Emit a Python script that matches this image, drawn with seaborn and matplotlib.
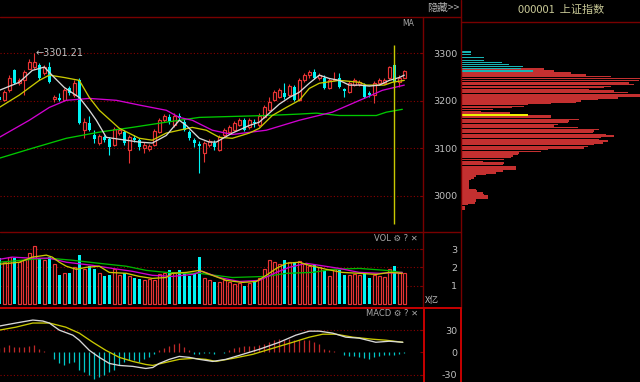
import numpy as np
import matplotlib
matplotlib.use("Agg")
import matplotlib.pyplot as plt
import seaborn as sns

# ---------------- data ----------------
opens = [3207,3201,3222,3264,3237,3243,3268,3271,3275,3258,
         3271,3203,3205,3201,3226,3212,3243,3138,3153,3127,
         3111,3123,3119,3106,3132,3134,3096,3121,3117,3100,
         3098,3106,3134,3159,3165,3148,3169,3155,3134,3117,
         3108,3089,3106,3111,3096,3127,3134,3138,3148,3159,
         3144,3155,3148,3165,3180,3201,3207,3216,3212,3228,
         3201,3243,3254,3260,3247,3249,3226,3243,3249,3224,
         3218,3233,3235,3233,3216,3212,3237,3237,3247,3275,
         3239,3249]
highs = [3212,3222,3254,3268,3247,3264,3289,3301.21,3279,3275,
         3281,3212,3216,3226,3231,3243,3247,3163,3169,3138,
         3129,3127,3123,3144,3142,3138,3127,3127,3121,3113,
         3108,3140,3163,3172,3172,3174,3174,3163,3138,3121,
         3115,3115,3119,3117,3127,3142,3148,3157,3163,3163,
         3163,3161,3174,3191,3207,3222,3226,3237,3235,3233,
         3247,3258,3264,3266,3258,3254,3247,3260,3258,3226,
         3241,3247,3243,3237,3220,3241,3247,3247,3273,3279,
         3254,3264]
lows = [3197,3199,3218,3235,3233,3212,3266,3268,3243,3254,
        3237,3197,3199,3199,3212,3207,3151,3121,3136,3111,
        3106,3113,3085,3104,3127,3106,3068,3113,3096,3089,
        3094,3104,3132,3155,3151,3144,3159,3136,3117,3102,
        3047,3071,3102,3096,3094,3123,3129,3136,3146,3136,
        3140,3144,3144,3163,3178,3199,3205,3203,3209,3199,
        3199,3239,3249,3245,3243,3224,3224,3241,3226,3207,
        3216,3231,3231,3205,3207,3195,3233,3235,3245,3237,
        3228,3247]
closes = [3201,3218,3249,3237,3243,3260,3281,3281,3249,3271,
          3239,3207,3201,3222,3216,3237,3153,3155,3138,3119,
          3125,3117,3102,3140,3138,3111,3123,3117,3102,3106,
          3104,3136,3159,3167,3155,3169,3163,3138,3121,3111,
          3104,3111,3115,3102,3123,3138,3144,3153,3159,3138,
          3159,3153,3169,3186,3197,3218,3222,3207,3231,3201,
          3243,3254,3260,3249,3254,3226,3243,3245,3228,3220,
          3237,3243,3239,3207,3212,3237,3243,3243,3271,3239,
          3249,3262]
volume = [2.50,2.28,2.56,2.50,2.30,2.40,2.80,3.20,2.50,2.40,
          2.55,2.20,1.60,1.70,1.70,2.00,2.70,1.90,2.05,1.93,
          1.67,1.55,1.60,1.93,1.60,1.67,1.55,1.40,1.37,1.33,
          1.37,1.33,1.65,1.70,1.87,1.70,1.83,1.70,1.50,1.65,
          2.55,1.40,1.33,1.20,1.20,1.33,1.20,1.10,1.15,0.95,
          1.15,1.27,1.43,1.93,2.43,2.30,2.20,2.43,2.30,2.30,
          2.33,2.20,2.10,2.15,2.00,1.83,1.55,1.90,1.83,1.60,
          1.60,1.65,1.60,1.65,1.40,1.60,1.55,1.45,1.90,2.05,
          1.67,1.67]
macd_hist = [5.5,7,9.5,7,7,7,8,9.5,4,2,
             1,-9.5,-15,-17.5,-15,-13,-24.5,-27,-31,-36,
             -33.6,-31,-27,-24.5,-17.5,-13,-11,-11,-13,-8.6,
             -6.4,-2.7,2.7,5.9,8.6,11.8,12.7,7.3,3.6,-1.8,
             -1.8,-1.5,-1,-2,1,-0.5,3.6,5.9,7.3,8.2,
             8.2,8.6,10.5,11.8,14,16.4,18.6,17.3,18.6,16.4,
             17.3,16.4,17.3,14,11.8,5,2.7,1.8,0.3,-4,
             -5,-5.5,-6.4,-7.3,-9.5,-6.4,-5.5,-4,-3.6,-3.2,
             -2.5,-1]

# moving-average lines (read at sample positions, candle index)
ma5_x = [0,4,6.6,9,11,13,16,18,19.4,21.4,24,28,30.6,33.4,36,37.4,40,42,43.4,46.6,50,52,54,56,58,60,62,64,66,68,70,72,74,76,78,80,81]
ma5_y = [3222,3239,3264,3271,3249,3228,3207,3180,3159,3123,3119,3113,3111,3127,3159,3148,3121,3113,3113,3132,3148,3155,3174,3193,3207,3218,3237,3254,3247,3243,3233,3233,3231,3233,3243,3249,3254]
ma10_x = [0,4,8,10,13,16,18,20,24,28,30.6,33.4,36,38.6,41.4,44,46.6,50,52,54.6,57.4,60,62,64,68,72,73.4,77,78.6,81]
ma10_y = [3186,3212,3243,3254,3249,3243,3207,3180,3142,3121,3117,3132,3138,3144,3138,3123,3121,3132,3142,3169,3186,3201,3226,3237,3243,3239,3233,3233,3239,3243]
ma20_x = [0,6,10,13.4,18,23.4,28,33.4,36,38.6,42.6,46.6,53.4,60,66.6,73.4,76.6,81]
ma20_y = [3123,3159,3186,3201,3205,3201,3191,3180,3165,3159,3138,3129,3138,3159,3176,3207,3222,3233]
ma60_x = [0,6.6,13.4,20,26.6,33.4,40,46.6,53.4,60,63.4,68,75.4,77.4,80.6]
ma60_y = [3079,3100,3121,3134,3144,3155,3165,3167,3169,3172,3174,3169,3169,3176,3182]

vma_y_x = [0,4,6.6,9.4,10.6,12,13.4,15.4,17.4,20,22,25.4,28,30.6,33.4,34.6,37.4,40,42.6,45.4,48.6,51.4,53.4,55.4,57.4,60,62,65.4,68.6,72,75.4,78,80.6]
vma_y_v = [2.17,2.28,2.56,2.67,2.56,2.28,2.06,1.89,2.0,2.06,1.72,1.67,1.5,1.39,1.44,1.67,1.72,1.83,1.56,1.28,1.17,1.22,1.56,1.94,2.22,2.28,2.11,1.89,1.72,1.67,1.61,1.72,1.67]
vma_m_x = [0,2.6,6.6,10,13.4,18.6,22.6,26.6,30.6,34.6,38.6,40.6,44,48,52,55.4,58,61.4,64,68,72,76,80.6]
vma_m_v = [2.44,2.56,2.5,2.5,2.28,2.11,1.94,1.78,1.56,1.5,1.61,1.78,1.44,1.22,1.28,1.72,2.0,2.22,2.11,1.94,1.72,1.67,1.72]
vma_g_x = [0,6.6,10,14.6,20,25.4,29.4,33.4,37.4,40,46.6,53.4,57.4,62.6,66.6,72,77.4,80.6]
vma_g_v = [2.28,2.44,2.5,2.39,2.22,2.06,1.83,1.72,1.67,1.67,1.44,1.5,1.67,1.72,1.89,1.94,1.83,1.72]

dif_x = [0,3.3,6.7,8.7,10,12,14.7,16,18,20,22,24,26.7,29.3,30.7,32,34,36,38,40,42.7,45.3,48,52,56,59.3,62,64,66.7,69.3,72,75.3,78,80.7]
dif_v = [35.5,39.6,43.6,42.3,39.6,30,23.2,16.4,2.7,-6.8,-15,-17.7,-19,-21.8,-20.5,-15,-9.5,-5.5,-6.8,-9.5,-12.3,-9.5,-4.1,4.1,13.6,23.2,28.6,28.6,25.9,20.5,19.1,13.6,15,13.6]
dea_x = [0,3.3,6.7,10,13.3,16,18.7,21.3,24,26.7,29.3,30.7,33.3,36,38.7,41.3,43.3,46.7,50.7,54.7,58.7,62,64.7,67.3,70.7,74.7,77.3,80.7]
dea_v = [30,34,39.6,39.6,34,25.9,13.6,2.7,-6.8,-12.3,-16.4,-17.7,-13.6,-9.5,-8.2,-9.5,-12.3,-8.2,-2.7,5.5,13.6,20.5,24.5,24.5,20.5,17.7,16.4,13.6]

# chip distribution (price level, amount)
chip_cyan_price = [3302.7,3297.9,3290.9,3285.3,3280.4,3276.8,3272.0,3268.4,3262.7]
chip_cyan_amt = [9,9,22,22,40,47,61,59,71]
chip_red_price = [3267.4,3262.7,3259.0,3254.1,3251.6,3246.7,3243.2,3237.5,3234.1,3230.5,
                  3227.8,3223.6,3220.6,3217.2,3213.7,3210.1,3205.9,3203.2,3199.6,3196.9,
                  3194.8,3192.0,3188.4,3185.3,3181.5,3177.9,3174.3,3169.5,3165.9,3161.1,
                  3157.5,3154.1,3150.5,3147.0,3143.6,3139.4,3136.4,3133.1,3129.5,3125.9,
                  3122.5,3118.3,3115.3,3111.2,3107.8,3104.2,3100.7,3097.3,3093.7,3090.1,
                  3086.8,3083.2,3080.4,3076.2,3072.6,3069.1,3065.7,3062.1,3058.6,3055.2,
                  3051.6,3048.0,3044.7,3041.1,3037.5,3034.2,3030.6,3027.0,3023.6,3020.0,
                  3016.5,3013.1,3009.5,3005.9,3002.6,2999.0,2995.4,2992.0,2988.5,2984.9,
                  2981.5,2976.5,2971.6]
chip_red_amt = [82,92,109,124,149,179,177,167,172,149,
                142,127,152,166,179,179,156,136,119,114,
                89,66,62,50,31,19,48,89,89,117,
                107,106,96,92,116,137,132,131,144,152,
                139,137,146,141,132,126,122,86,79,57,
                56,51,49,42,21,42,41,54,54,54,
                41,34,24,14,12,9,7,7,7,7,
                7,14,15,21,22,26,26,14,14,13,
                6,3,3]
chip_avg_price = [3169.5]
chip_avg_amt = [66]

price_ticks = [3000, 3100, 3200, 3300]
vol_ticks = [1, 2, 3]
macd_ticks = [-30, 0, 30]
peak_label = "←3301.21"
cursor_index = 79
cursor_top, cursor_bottom = 3317, 2940

# ---------------- style ----------------
sns.set_style("dark", {"axes.facecolor": "black", "figure.facecolor": "black"})
plt.rcParams['font.family'] = ['DejaVu Sans']
CJK = ['Noto Sans CJK SC', 'DejaVu Sans']

RED = '#e83434'
CYAN = '#00f4f4'
GRID = '#8a0000'
DARK = '#780000'
TXT = '#c0c0c0'

fig = plt.figure(figsize=(6.4, 3.82), dpi=100, facecolor='black')
W, H = 640.0, 382.0

def px_ax(x0, y0, x1, y1):
    a = fig.add_axes([x0 / W, 1 - y1 / H, (x1 - x0) / W, (y1 - y0) / H])
    a.set_facecolor('black')
    for s in a.spines.values():
        s.set_visible(False)
    a.grid(False)
    return a

ax_p = px_ax(0, 16, 423, 231)
ax_v = px_ax(0, 231.5, 423, 307.5)
ax_m = px_ax(0, 308, 423, 382)
ax_c = px_ax(461.5, 16, 640, 231)

n = len(closes)
idx = np.arange(n)
o = np.array(opens, float); c = np.array(closes, float)
h = np.array(highs, float); l = np.array(lows, float)
up = c >= o
XL = (0.14, 84.74)

# ---- price candles ----
top = np.maximum(o, c); bot = np.minimum(o, c)
body = np.maximum(top - bot, 1.0)
ax_p.vlines(idx[up], top[up], h[up], color=RED, lw=0.8, zorder=3)
ax_p.vlines(idx[up], l[up], bot[up], color=RED, lw=0.8, zorder=3)
ax_p.vlines(idx[~up], l[~up], h[~up], color=CYAN, lw=0.8, zorder=3)
ax_p.bar(idx[up], body[up], bottom=bot[up], width=0.64, facecolor='black',
         edgecolor=RED, linewidth=0.85, zorder=4)
ax_p.bar(idx[~up], body[~up], bottom=bot[~up], width=0.72, color=CYAN,
         linewidth=0, zorder=4)

for xs, ys, col in [(ma60_x, ma60_y, '#00c800'), (ma20_x, ma20_y, '#d000d0'),
                    (ma10_x, ma10_y, '#c8c800'), (ma5_x, ma5_y, '#d8d8d8')]:
    sns.lineplot(x=xs, y=ys, ax=ax_p, color=col, linewidth=0.95, sort=False, zorder=5)

ax_p.vlines(cursor_index - 0.15, cursor_bottom, cursor_top, color='#c8c800', lw=1.0, zorder=6)
ax_p.text(7.3, highs[7], peak_label, color=TXT, fontsize=7, ha='left', va='center', zorder=7)

for t in price_ticks:
    ax_p.axhline(t, color=GRID, lw=0.8, ls=(0, (1, 2)), zorder=1)
ax_p.set_xlim(*XL)
ax_p.set_ylim(2925.7, 3378.6)
ax_p.set_yticks(price_ticks)
ax_p.set_yticklabels([str(t) for t in price_ticks])

# ---- volume ----
v = np.array(volume)
for t in vol_ticks:
    ax_v.axhline(t, color=GRID, lw=0.8, ls=(0, (1, 2)), zorder=1)
ax_v.bar(idx[up], v[up], width=0.64, facecolor='black', edgecolor=RED, linewidth=0.85, zorder=3)
ax_v.bar(idx[~up], v[~up], width=0.72, color=CYAN, linewidth=0, zorder=3)
for xs, ys, col in [(vma_g_x, vma_g_v, '#00b400'), (vma_m_x, vma_m_v, '#d000d0'),
                    (vma_y_x, vma_y_v, '#c8c800')]:
    sns.lineplot(x=xs, y=ys, ax=ax_v, color=col, linewidth=0.95, sort=False, zorder=5)
ax_v.set_xlim(*XL)
ax_v.set_ylim(-0.21, 3.97)
ax_v.set_yticks(vol_ticks)
ax_v.set_yticklabels([str(t) for t in vol_ticks])

# ---- MACD ----
mh = np.array(macd_hist)
for t in (30, -30):
    ax_m.axhline(t, color=GRID, lw=0.8, ls=(0, (1, 2)), zorder=1)
ax_m.vlines(idx[mh >= 0], 0, mh[mh >= 0], color='#c02828', lw=0.9, zorder=3)
ax_m.vlines(idx[mh < 0], 0, mh[mh < 0], color='#00c8c8', lw=0.9, zorder=3)
sns.lineplot(x=dea_x, y=dea_v, ax=ax_m, color='#c8c800', linewidth=0.95, sort=False, zorder=5)
sns.lineplot(x=dif_x, y=dif_v, ax=ax_m, color='#d8d8d8', linewidth=0.95, sort=False, zorder=6)
ax_m.set_xlim(*XL)
ax_m.set_ylim(-40.1, 59.9)
ax_m.set_yticks(macd_ticks)
ax_m.set_yticklabels([str(t) for t in macd_ticks])

for a in (ax_p, ax_v, ax_m):
    a.set_xlabel(''); a.set_ylabel('')
    a.set_xticks([])
    a.yaxis.tick_right()
    a.tick_params(axis='y', direction='in', length=2.5, width=0.8, color=DARK,
                  labelcolor=TXT, labelsize=6.8, pad=24.5)
    for lab in a.get_yticklabels():
        lab.set_horizontalalignment('right')

# ---- chip distribution ----
ax_c.barh(chip_red_price, chip_red_amt, height=3.1, color='#c43030', linewidth=0)
ax_c.barh(chip_cyan_price, chip_cyan_amt, height=3.1, color='#18b4b4', linewidth=0)
ax_c.barh(chip_avg_price, chip_avg_amt, height=3.4, color='#f0f000', linewidth=0)
ax_c.set_xlim(0, 178.5)
ax_c.set_ylim(2925.7, 3378.6)
ax_c.set_xticks([]); ax_c.set_yticks([])

# ---- frame / UI overlay ----
ov = fig.add_axes([0, 0, 1, 1])
ov.set_xlim(0, W); ov.set_ylim(H, 0); ov.axis('off')
for (x0, y0, x1, y1) in [(0, 16.5, 461, 16.5), (461, 21.5, 640, 21.5), (423, 16.5, 423, 308),
                         (461, 0, 461, 308), (0, 231.5, 461, 231.5)]:
    ov.plot([x0, x1], [y0, y1], color=DARK, lw=1.0)
for (x0, y0, x1, y1) in [(0, 307.8, 461, 307.8), (423.5, 308, 423.5, 382), (460.5, 308, 460.5, 382)]:
    ov.plot([x0, x1], [y0, y1], color='#c80000', lw=1.4)
ov.text(443, 8, "隐藏>>", color='#b4b4b4', fontsize=7.5, ha='center', va='center', family=CJK)
ov.text(561, 10, "000001  上证指数", color='#c8c896', fontsize=8, ha='center', va='center', family=CJK)
ov.text(408, 24, "MA", color='#a8a8a8', fontsize=5.5, ha='center', va='center')
ov.text(418, 238, "VOL ⚙ ? ✕", color='#a8a8a8', fontsize=6, ha='right', va='center')
ov.text(418, 313.5, "MACD ⚙ ? ✕", color='#a8a8a8', fontsize=6, ha='right', va='center')
ov.text(425, 301, "X亿", color=TXT, fontsize=6.5, ha='left', va='center', family=CJK)

fig.savefig('out.png', dpi=100, facecolor='black')
